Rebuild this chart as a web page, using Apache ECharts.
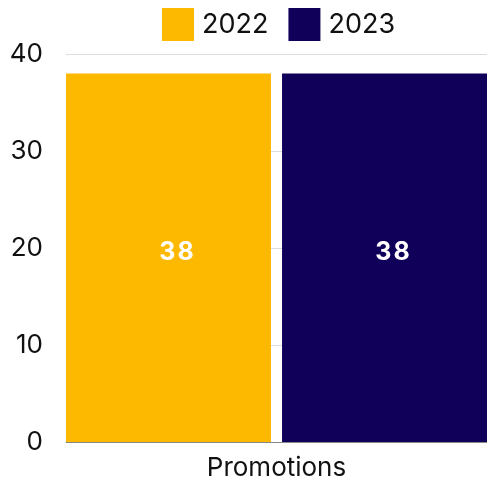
<!DOCTYPE html>
<html>
<head>
<meta charset="utf-8">
<script src="https://cdn.jsdelivr.net/npm/echarts@6/dist/echarts.min.js"></script>
<style>
  html, body { margin: 0; padding: 0; background: #fff; }
  #chart { width: 487px; height: 481px; }
</style>
</head>
<body>
<div id="chart"></div>
<script>
// Promotions per year
const categories = ['Promotions'];
const seriesNames = ['2022', '2023'];
const values2022 = [38];
const values2023 = [38];
const yTicks = [0, 10, 20, 30, 40];

const colors = ['#FDB800', '#10005A'];
const font = 'Inter, Roboto, sans-serif';

const chart = echarts.init(document.getElementById('chart'), null, { renderer: 'canvas' });

function barSeries(name, data, color) {
  return {
    name: name,
    type: 'bar',
    data: data,
    barWidth: 209,
    barGap: '5.3%',
    barCategoryGap: 0,
    itemStyle: { color: color },
    label: {
      show: true,
      position: 'inside',
      color: '#fff',
      fontFamily: font,
      fontWeight: 'bold',
      fontSize: 25,
      offset: [8, -5],
      formatter: p => String(p.value).split('').join('\u200A')
    }
  };
}

chart.setOption({
  animation: false,
  color: colors,
  legend: {
    data: seriesNames,
    top: 8,
    left: 162,
    padding: 0,
    itemWidth: 32,
    itemHeight: 33,
    itemGap: 20,
    icon: 'rect',
    textStyle: { fontFamily: font, fontSize: 27, color: '#111', padding: [0, 0, 0, 3] }
  },
  // plot area runs slightly past the right edge of the canvas
  grid: { left: 66, width: 429, top: 54, bottom: 37, containLabel: false },
  xAxis: {
    type: 'category',
    data: categories,
    axisLine: { lineStyle: { color: '#888', width: 1 } },
    axisTick: { show: false },
    axisLabel: { fontFamily: font, fontSize: 26, color: '#111', margin: 13, offset: [4, 0] }
  },
  yAxis: {
    type: 'value',
    min: yTicks[0],
    max: yTicks[yTicks.length - 1],
    interval: yTicks[1] - yTicks[0],
    axisLine: { show: false },
    axisTick: { show: false },
    splitLine: { lineStyle: { color: '#ddd', width: 1 } },
    axisLabel: { fontFamily: font, fontSize: 26, color: '#111', margin: 23 }
  },
  series: [
    barSeries(seriesNames[0], values2022, colors[0]),
    barSeries(seriesNames[1], values2023, colors[1])
  ]
});
</script>
</body>
</html>
